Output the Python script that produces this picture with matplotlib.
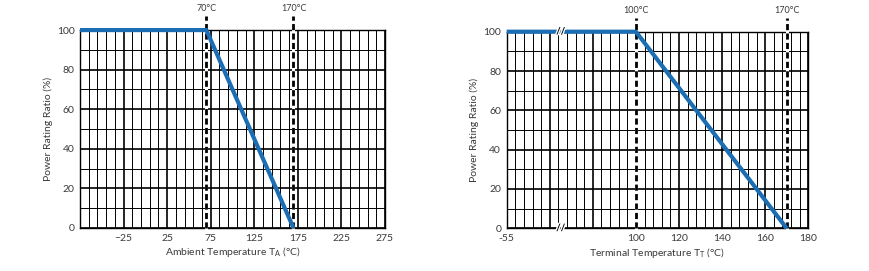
import numpy as np
import matplotlib
matplotlib.use("Agg")
import matplotlib.pyplot as plt
import matplotlib.patheffects as pe
from matplotlib.ticker import FixedLocator, FuncFormatter

plt.rcParams["font.family"] = ["Lato", "DejaVu Sans"]
plt.rcParams["font.size"] = 7.5

# left chart: ambient temperature derating
ambient_temp = [-75, 70, 170]
ambient_ratio = [100, 100, 0]
ambient_marks = [70, 170]
ambient_ticks = [-25, 25, 75, 125, 175, 225, 275]

# right chart: terminal temperature derating (broken axis below 100)
terminal_temp = [-55, 100, 170]
terminal_ratio = [100, 100, 0]
terminal_marks = [100, 170]
terminal_ticks = [-55, 100, 120, 140, 160, 180]

y_ticks = [0, 20, 40, 60, 80, 100]

BLUE = "#1b6db4"
TEXT = "#3a3a3a"


def style_axes(ax):
    ax.set_ylim(0, 100)
    ax.set_yticks(y_ticks)
    ax.set_yticks(np.arange(0, 101, 10), minor=True)
    ax.grid(which="major", color="black", lw=1.2)
    ax.grid(which="minor", color="black", lw=0.7)
    ax.tick_params(which="both", length=0, colors=TEXT, labelsize=7.5, pad=4)
    for s in ax.spines.values():
        s.set_color("black")
        s.set_linewidth(1.0)
    ax.set_ylabel("Power Rating Ratio (%)", color=TEXT, fontsize=7.5, labelpad=3)
    ax.set_axisbelow(True)


def mark_line(ax, x):
    ax.axvline(x, ymin=0, ymax=1.07, color="white", lw=2.2, clip_on=False, zorder=3)
    ax.axvline(x, ymin=0, ymax=1.07, color="black", lw=2.0, ls=(0, (2.2, 1.2)),
               clip_on=False, zorder=4)
    ax.text(x, 108.5, f"{x}°C", ha="center", va="bottom", color=TEXT, fontsize=6.5)


fig = plt.figure(figsize=(8.7, 2.71), dpi=100)

# ---- left ----
ax1 = fig.add_axes([0.092, 0.1587, 0.3505, 0.7303])
ax1.set_xlim(-75, 275)
ax1.set_xticks(ambient_ticks)
ax1.set_xticks(np.arange(-75, 276, 10), minor=True)
style_axes(ax1)
ax1.axvline(-75, color="black", lw=1.2)
for m in ambient_marks:
    mark_line(ax1, m)
ax1.plot(ambient_temp, ambient_ratio, color=BLUE, lw=3.0, clip_on=False,
         solid_capstyle="butt", zorder=5)
ax1.set_xlabel("Ambient Temperature T$_\\mathregular{A}$ (°C)", color=TEXT,
               fontsize=7.5, labelpad=2)

# ---- right ----
# below 100 °C the axis is compressed: -55..100 takes 15 grid cells
def fwd(t):
    t = np.asarray(t, dtype=float)
    return np.where(t >= 100, t, 100 - (100 - t) * 60 / 155)


def inv(p):
    p = np.asarray(p, dtype=float)
    return np.where(p >= 100, p, 100 - (100 - p) * 155 / 60)


ax2 = fig.add_axes([0.5824, 0.1576, 0.3466, 0.7254])
ax2.set_xscale("function", functions=(fwd, inv))
ax2.set_xlim(-55, 180)
ax2.xaxis.set_major_locator(FixedLocator(inv(np.arange(40, 181, 20))))
ax2.xaxis.set_minor_locator(FixedLocator(inv(np.arange(40, 181, 4))))
ax2.xaxis.set_major_formatter(FuncFormatter(
    lambda v, p: f"{round(v)}" if any(abs(v - t) < 0.5 for t in terminal_ticks) else ""))
style_axes(ax2)
for m in terminal_marks:
    mark_line(ax2, m)
ax2.plot(terminal_temp, terminal_ratio, color=BLUE, lw=3.0, clip_on=False,
         solid_capstyle="butt", zorder=5)
ax2.set_xlabel("Terminal Temperature T$_\\mathregular{T}$ (°C)", color=TEXT,
               fontsize=7.5, labelpad=2)

# axis break marks
for yb in (0, 1):
    ax2.text(0.179, yb, "//", transform=ax2.transAxes, ha="center", va="center",
             fontsize=7, fontweight="bold", color="black", zorder=6,
             path_effects=[pe.withStroke(linewidth=2, foreground="white")])

fig.savefig("out.png", dpi=100)
